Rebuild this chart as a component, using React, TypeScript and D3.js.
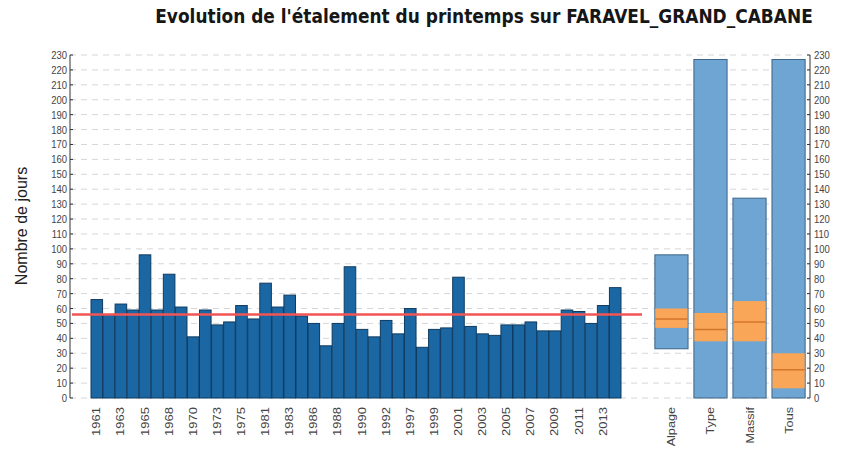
import React from "react";
import * as d3 from "d3";

const years: string[] = [
  "1961","1962","1963","1964","1965","1966","1968","1969","1970","1971",
  "1973","1974","1975","1976","1981","1982","1983","1984","1986","1987",
  "1988","1989","1990","1991","1992","1993","1997","1998","1999","2000",
  "2001","2002","2003","2004","2005","2006","2007","2008","2009","2010",
  "2011","2012","2013","2014"
];
const days: number[] = [
  66,56,63,59,96,59,83,61,41,59,
  49,51,62,53,77,61,69,55,50,35,
  50,88,46,41,52,43,60,34,46,47,
  81,48,43,42,49,49,51,45,45,59,
  58,50,62,74
];
const meanDays = 56;

const groups: string[] = ["Alpage", "Type", "Massif", "Tous"];
const boxMin: number[] = [33, 0, 0, 0];
const boxMax: number[] = [96, 227, 134, 227];
const q1: number[] = [47, 38, 38, 6.5];
const q3: number[] = [60, 57, 65, 30];
const medians: number[] = [53, 46, 51, 19];

const yTicks: number[] = d3.range(0, 231, 10);

const title = "Evolution de l'étalement du printemps sur FARAVEL_GRAND_CABANE";

export default function App() {
  const W = 844, H = 455;
  const y = d3.scaleLinear().domain([0, 230]).range([398, 55]);
  const x = d3.scaleBand<string>().domain(years).range([91, 621]).paddingInner(0.04);
  const xr = d3.scaleBand<string>().domain(groups).range([649, 811]).padding(0.15);
  const leftX = 70, rightX = 810;
  const tickFont = "'Liberation Sans', Arial, sans-serif";

  return (
    <div style={{ position: "absolute", left: 0, top: 0 }}>
      <svg width={W} height={H} style={{ display: "block", background: "#fff" }}>
        <text transform="translate(484,23) scale(1,1.1)" textAnchor="middle" fontFamily="'DejaVu Sans', sans-serif" fontWeight="bold" fontSize={17} fill="#161616">{title}</text>

        {/* grid */}
        {yTicks.map((t) => (
          <line key={"g" + t} x1={leftX} x2={rightX} y1={y(t)} y2={y(t)} stroke="#d6d6d6" strokeWidth={1} strokeDasharray="6,5" />
        ))}

        {/* bars */}
        {years.map((yr, i) => (
          <rect key={yr} x={x(yr)!} y={y(days[i])} width={x.bandwidth()} height={y(0) - y(days[i])} fill="#1b67a3" stroke="#0f3b60" strokeWidth={1} />
        ))}

        {/* mean line */}
        <line x1={72} x2={642} y1={y(meanDays)} y2={y(meanDays)} stroke="#f25555" strokeWidth={2.5} />

        {/* boxes */}
        {groups.map((g, i) => {
          const bx = xr(g)!;
          const bw = xr.bandwidth();
          return (
            <g key={g}>
              <rect x={bx} y={y(boxMax[i])} width={bw} height={y(boxMin[i]) - y(boxMax[i])} fill="#6ea5d2" stroke="#3d6587" strokeWidth={1} />
              <rect x={bx + 0.5} y={y(q3[i])} width={bw - 1} height={y(q1[i]) - y(q3[i])} fill="#f9a658" />
              <line x1={bx + 0.5} x2={bx + bw - 0.5} y1={y(medians[i])} y2={y(medians[i])} stroke="#d4752c" strokeWidth={1.5} />
            </g>
          );
        })}

        {/* left axis */}
        <line x1={leftX} x2={leftX} y1={y(230)} y2={y(0)} stroke="#333" strokeWidth={1} />
        {yTicks.map((t) => (
          <g key={"l" + t}>
            <line x1={leftX} x2={leftX + 3} y1={y(t)} y2={y(t)} stroke="#333" />
            <text transform={`translate(${leftX - 3},${y(t) + 4}) scale(0.95,1.15)`} textAnchor="end" fontFamily={tickFont} fontSize={10} fill="#444">{t}</text>
          </g>
        ))}

        {/* right axis */}
        <line x1={rightX} x2={rightX} y1={y(230)} y2={y(0)} stroke="#333" strokeWidth={1} />
        {yTicks.map((t) => (
          <g key={"r" + t}>
            <line x1={rightX - 3} x2={rightX} y1={y(t)} y2={y(t)} stroke="#333" />
            <text transform={`translate(${rightX + 4},${y(t) + 4}) scale(0.95,1.15)`} textAnchor="start" fontFamily={tickFont} fontSize={10} fill="#444">{t}</text>
          </g>
        ))}

        {/* x labels years */}
        {years.map((yr, i) =>
          i % 2 === 0 ? (
            <text key={"x" + yr} transform={`translate(${x(yr)! + x.bandwidth() / 2 + 3.5},${407}) rotate(-90) scale(1.3,1)`} textAnchor="end" fontFamily={tickFont} fontSize={10} fill="#444">{yr}</text>
          ) : null
        )}
        {groups.map((g) => (
          <text key={"xg" + g} transform={`translate(${xr(g)! + xr.bandwidth() / 2 + 4},${407}) rotate(-90) scale(1.15,1)`} textAnchor="end" fontFamily={tickFont} fontSize={11} fill="#444">{g}</text>
        ))}

        {/* y title */}
        <text transform={`translate(27,${226}) rotate(-90)`} textAnchor="middle" fontFamily={tickFont} fontSize={16} fill="#222">Nombre de jours</text>
      </svg>
    </div>
  );
}
